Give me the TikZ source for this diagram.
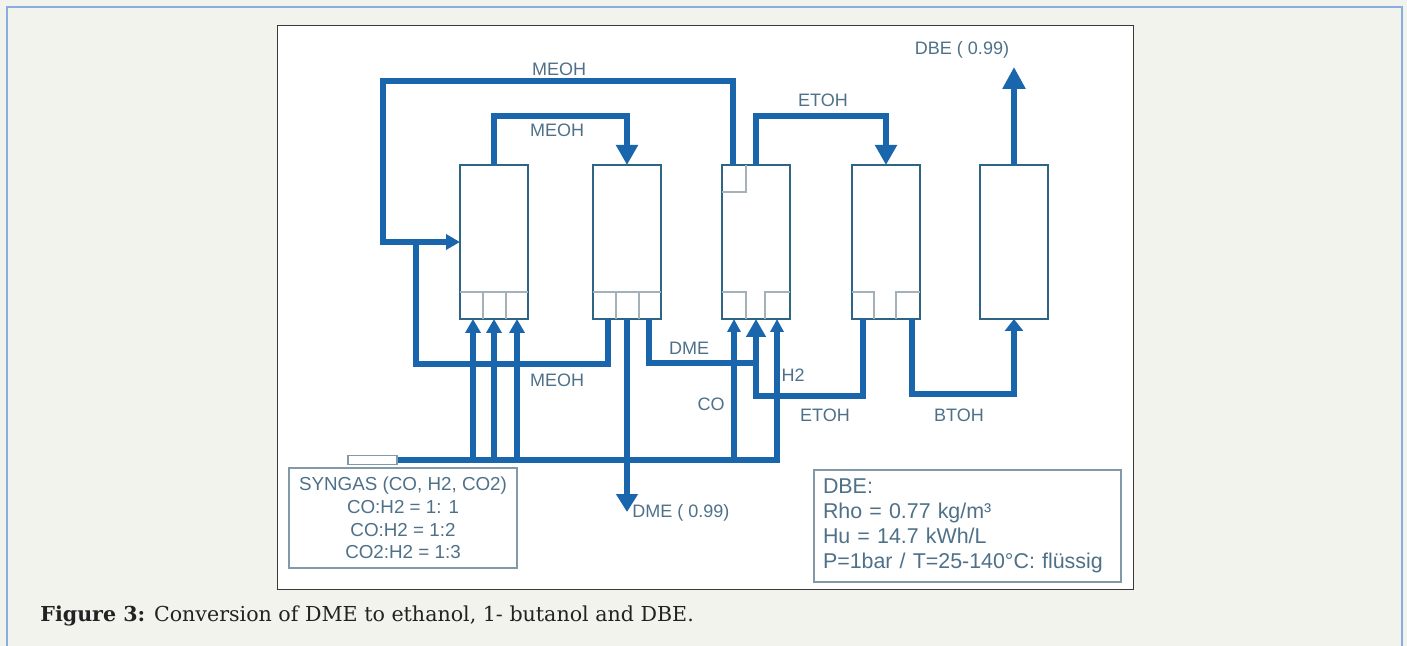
\documentclass[tikz,border=0pt]{standalone}
\usepackage{fontspec}
\setmainfont{Liberation Sans}
\newfontfamily\capfont{DejaVu Serif}
\usetikzlibrary{arrows.meta,calc}
\definecolor{bg}{HTML}{F3F3EE}
\definecolor{outerline}{HTML}{88AEDF}
\definecolor{framecol}{HTML}{3A3A3A}
\definecolor{flowblue}{HTML}{1A66AD}
\definecolor{colframe}{HTML}{2E6585}
\definecolor{cellline}{HTML}{A3B2BA}
\definecolor{labtext}{HTML}{4E7189}
\definecolor{boxline}{HTML}{8299A8}
\definecolor{captext}{HTML}{222222}
\begin{document}
\begin{tikzpicture}[x=0.5pt,y=-0.5pt,
  col/.style={draw=colframe, line width=1.1pt, fill=white, minimum width=34pt, minimum height=77pt, inner sep=0pt, outer sep=0pt},
  flow/.style={draw=flowblue, line width=2.6pt},
  thickflow/.style={draw=flowblue, line width=3.4pt},
  tipS/.style={-{Triangle[width=7.5pt,length=7pt]}},
  tipL/.style={-{Triangle[width=10.5pt,length=10pt]}},
  cell/.style={draw=cellline, line width=0.8pt},
  lbl/.style={text=labtext, font=\fontsize{9}{11}\selectfont, inner sep=0pt},
  infobox/.style={draw=boxline, line width=0.7pt, text=labtext, fill=white}
]
\useasboundingbox (0,0) rectangle (1407,646);
\fill[bg] (0,0) rectangle (1407,646);
\draw[outerline, line width=0.6pt] (7,646) -- (7,7) -- (1402,7) -- (1402,646);
\draw[framecol, fill=white, line width=0.5pt] (277,26) rectangle (1133,589);

% columns
\node[col] (c1) at (494,242) {};
\node[col] (c2) at (627,242) {};
\node[col] (c3) at (756,242) {};
\node[col] (c4) at (886,242) {};
\node[col] (c5) at (1014,242) {};

% cells
\draw[cell] ($(c1.south west)+(0,-27)$) -- ($(c1.south east)+(0,-27)$);
\draw[cell] ($(c1.south west)+(23,0)$) -- ++(0,-27);
\draw[cell] ($(c1.south west)+(46,0)$) -- ++(0,-27);
\draw[cell] ($(c2.south west)+(0,-27)$) -- ($(c2.south east)+(0,-27)$);
\draw[cell] ($(c2.south west)+(23,0)$) -- ++(0,-27);
\draw[cell] ($(c2.south west)+(46,0)$) -- ++(0,-27);
\draw[cell] ($(c3.south west)+(0,-27)$) -- ++(24,0) -- ++(0,27);
\draw[cell] ($(c3.south east)+(0,-27)$) -- ++(-25,0) -- ++(0,27);
\draw[cell] ($(c3.north west)+(0,27)$) -- ++(24,0) -- ++(0,-27);
\draw[cell] ($(c4.south west)+(0,-27)$) -- ++(22,0) -- ++(0,27);
\draw[cell] ($(c4.south east)+(0,-27)$) -- ++(-24,0) -- ++(0,27);

% syngas source
\node[draw=boxline, fill=white, line width=0.6pt, minimum width=24.5pt, minimum height=4.5pt, inner sep=0pt] (sg) at (372.5,460) {};

% junction coordinates
\coordinate (m1) at (383,81);
\coordinate (m2) at (416,364);
\coordinate (t1) at (560,116);
\coordinate (t2) at (820,116);
\coordinate (dbetip) at (1014,67);
\coordinate (dmetip) at (627,512);
\coordinate (s1) at (473,460);
\coordinate (s2) at (494,460);
\coordinate (s3) at (517,460);
\coordinate (sCO) at (734,460);
\coordinate (sH2) at (777,460);
\coordinate (sEnd) at (779.5,460);
\coordinate (dj) at (756,363);
\coordinate (ej) at (756,396);
\coordinate (bj) at (1014,394);

% flows
\draw[flow, tipS] ($(c3.north west)+(11,0)$) |- (m1) |- (c1.west);
\draw[flow] ($(c2.south west)+(15,0)$) |- (m2) -- (m2 |- c1.west);
\draw[thickflow, tipL] (c1.north) |- (t1) -| (c2.north);
\draw[thickflow, tipL] (c3.north) |- (t2) -| (c4.north);
\draw[thickflow, -{Triangle[width=11pt,length=11pt]}] (c5.north) -- (dbetip);
\draw[thickflow] (sg.east) -- (sEnd);
\draw[flow, tipS] (s1) -- (s1 |- c1.south);
\draw[flow, tipS] (s2) -- (s2 |- c1.south);
\draw[flow, tipS] (s3) -- (s3 |- c1.south);
\draw[flow, -{Triangle[width=6.5pt,length=6.5pt]}] (sCO) -- (sCO |- c3.south);
\draw[flow, -{Triangle[width=6.5pt,length=6.5pt]}] (sH2) -- (sH2 |- c3.south);
\draw[thickflow, -{Triangle[width=10.5pt,length=9pt]}] (c2.south) -- (dmetip);
\draw[flow] ($(c2.south west)+(56,0)$) |- (dj);
\draw[flow] ($(c4.south west)+(11,0)$) |- (ej) -- (dj);
\draw[thickflow, -{Triangle[width=9.5pt,length=9pt]}] (dj) -- (c3.south);
\draw[flow, -{Triangle[width=9pt,length=6pt]}] ($(c4.south east)+(-8,0)$) |- (bj) -- (c5.south);

% labels
\node[lbl] (lMeohTop) at (559,69) {MEOH};
\node[lbl] (lMeohIn) at (557,130) {MEOH};
\node[lbl] (lEtohTop) at (823,100) {ETOH};
\node[lbl] (lDbe) at (962,50) {DBE ( 0.99)};
\node[lbl] (lMeohBot) at (557,380) {MEOH};
\node[lbl] (lDme) at (689,348) {DME};
\node[lbl] (lCO) at (711,404) {CO};
\node[lbl] (lH2) at (793,375) {H2};
\node[lbl] (lEtohBot) at (825,415) {ETOH};
\node[lbl] (lBtoh) at (959,415) {BTOH};
\node[lbl, anchor=west] (lDmeOut) at (632,513) {DME ( 0.99)};

% info boxes
\node[infobox, minimum width=114pt, minimum height=50pt, inner sep=0pt, align=center,
      font=\fontsize{9.4}{11.35}\selectfont] (syn) at (403,518)
  {SYNGAS (CO, H2, CO2)\\CO:H2 = 1: 1\\CO:H2 = 1:2\\CO2:H2 = 1:3};
\node[infobox, minimum width=153.5pt, minimum height=56pt, inner xsep=4.5pt, inner ysep=0pt,
      text width=144.5pt, align=left, font=\fontsize{10.7}{12.5}\selectfont] (dbe) at (967.5,526)
  {DBE:\\Rho = 0.77 kg/m³\\Hu = 14.7 kWh/L\\P=1bar / T=25-140°C: flüssig};

% caption
\node[anchor=west, inner sep=0pt, text=captext, font=\capfont\fontsize{10.3}{12}\selectfont] (cap) at (40,616)
  {\textbf{Figure 3:} Conversion of DME to ethanol, 1- butanol and DBE.};
\end{tikzpicture}
\end{document}
